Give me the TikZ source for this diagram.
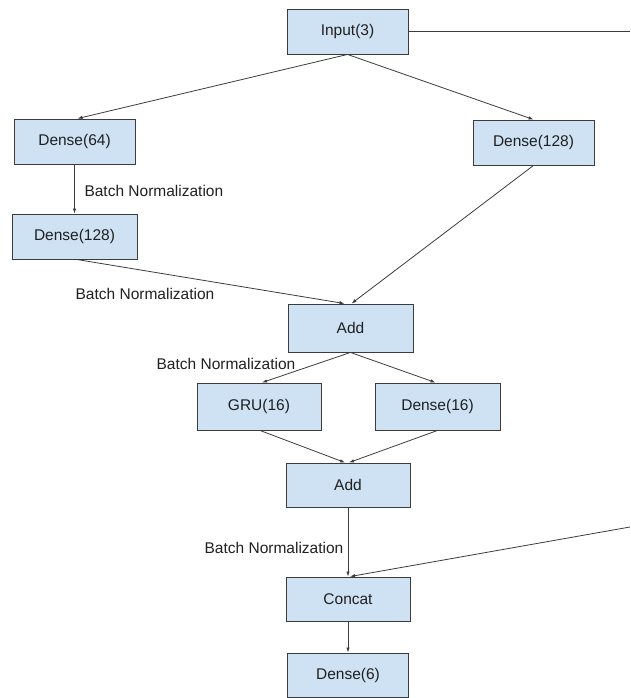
\documentclass[tikz,border=0pt]{standalone}
\usepackage{fontspec}
\setmainfont{Liberation Sans}
\usepackage{xcolor}
\definecolor{lblue}{HTML}{CFE2F3}
\definecolor{dgrey}{HTML}{3C3C3C}
\definecolor{tgrey}{HTML}{202020}
\usepackage{tikz}
\usetikzlibrary{arrows.meta}
\usetikzlibrary{positioning}

\begin{document}
\begin{tikzpicture}[x=1pt,y=-1pt,every node/.style={font=\fontsize{15.5}{18}\selectfont,text=tgrey},
  blk/.style={draw=dgrey,line width=0.9pt,fill=lblue,minimum width=121pt,minimum height=45pt,inner sep=0pt},
  arr/.style={dgrey,line width=0.8pt,-{Latex[length=5pt,width=3.5pt]}},
  lin/.style={dgrey,line width=0.8pt}]
\useasboundingbox (0,0) rectangle (630,698);
\node[blk] (in) at (347.5,31.5) {Input(3)};
\node[blk] (d64) at (74.5,141.5) {Dense(64)};
\node[blk,minimum width=125pt] (d128a) at (74.5,236.5) {Dense(128)};
\node[blk] (d128b) at (533.5,142.5) {Dense(128)};
\node[blk,minimum width=125pt,minimum height=48pt] (add1) at (350.5,328) {Add};
\node[blk,minimum width=124pt,minimum height=47pt] (gru) at (259,406.5) {GRU(16)};
\node[blk,minimum width=125pt,minimum height=47pt] (d16) at (437.5,406.5) {Dense(16)};
\node[blk,minimum width=124pt,minimum height=44pt] (add2) at (348,485) {Add};
\node[blk,minimum width=124pt,minimum height=44pt] (cat) at (348,599) {Concat};
\node[blk,minimum height=44pt] (d6) at (348,675) {Dense(6)};
\coordinate (rin) at (630,31.5);
\coordinate (rcat) at (630,527);
% labels
\node[anchor=west] (bn1) at (81,191) {Batch Normalization};
\node (bn2) at (145,294) {Batch Normalization};
\node (bn3) at (226,364) {Batch Normalization};
\node (bn4) at (274,547.5) {Batch Normalization};
% connections
\draw (in.east) edge [lin] (rin);
\draw (in.south) edge [arr] ([xshift=3pt]d64.north);
\draw (in.south) edge [arr] (d128b.north);
\draw (d64.south) edge [arr] (d128a.north);
\draw ([xshift=2pt]d128a.south) edge [arr] ([xshift=-6pt]add1.north);
\draw (d128b.south) edge [arr] ([xshift=1pt]add1.north);
\draw (add1.south) edge [arr] ([xshift=3pt]gru.north);
\draw (add1.south) edge [arr] ([xshift=-2pt]d16.north);
\draw ([xshift=1pt]gru.south) edge [arr] ([xshift=-3pt]add2.north);
\draw (d16.south) edge [arr] ([xshift=1pt]add2.north);
\draw (add2.south) edge [arr] (cat.north);
\draw (rcat) edge [arr] ([xshift=2pt]cat.north);
\draw (cat.south) edge [arr] (d6.north);
\end{tikzpicture}
\end{document}
